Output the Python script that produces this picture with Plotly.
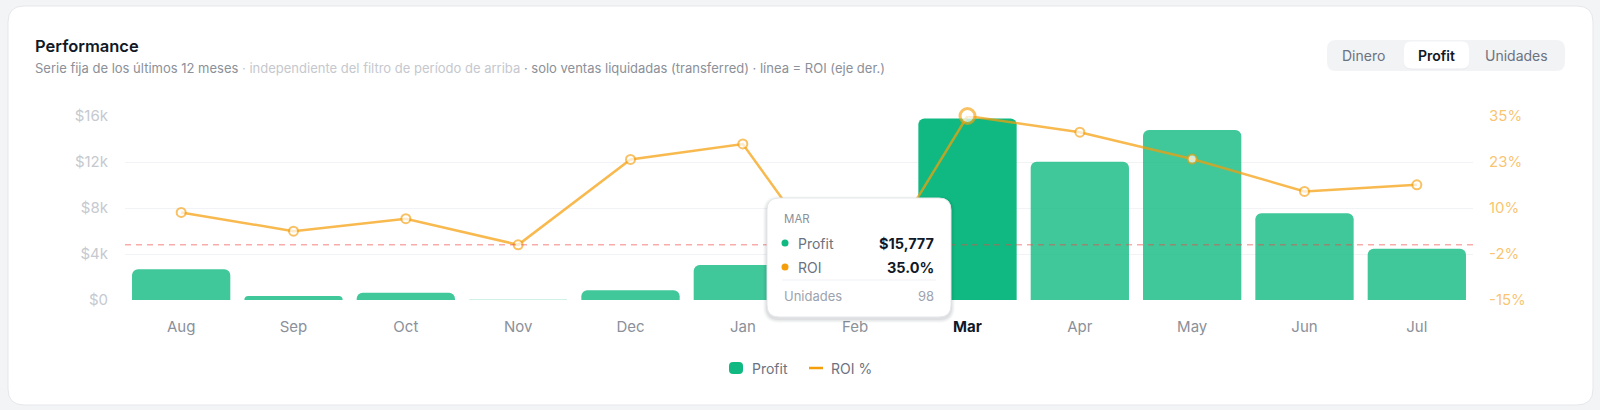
import plotly.graph_objects as go

# ---------------- data ----------------
months = ["Aug", "Sep", "Oct", "Nov", "Dec", "Jan", "Feb", "Mar", "Apr", "May", "Jun", "Jul"]
profit = [2670, 350, 630, 30, 840, 3040, -1150, 15777, 12030, 14780, 7540, 4460]
roi = [8.8, 3.7, 7.1, 0.0, 23.2, 27.4, -15.0, 35.0, 30.6, 23.3, 14.5, 16.3]
units_highlight = 98
highlight_month = "Mar"

left_tickvals = [0, 4000, 8000, 12000, 16000]
left_ticktext = ["$0", "$4k", "$8k", "$12k", "$16k"]
right_tickvals = [-15, -2.5, 10, 22.5, 35]
right_ticktext = ["-15%", "-2%", "10%", "23%", "35%"]

title_text = "Performance"
toggle_labels = ["Dinero", "Profit", "Unidades"]
legend_labels = ["Profit", "ROI %"]

# ---------------- geometry helpers ----------------
W, H = 1600, 410
L, R, T, B = 125, 127, 116, 110
PW, PH = W - L - R, H - T - B
FONT = "Inter"

def X(px):
    return (px - L) / PW

def Y(py):
    return (H - B - py) / PH

def rrect(x0, y0, x1, y1, r):
    return (f"M {X(x0+r)},{Y(y0)} L {X(x1-r)},{Y(y0)} Q {X(x1)},{Y(y0)} {X(x1)},{Y(y0+r)} "
            f"L {X(x1)},{Y(y1-r)} Q {X(x1)},{Y(y1)} {X(x1-r)},{Y(y1)} "
            f"L {X(x0+r)},{Y(y1)} Q {X(x0)},{Y(y1)} {X(x0)},{Y(y1-r)} "
            f"L {X(x0)},{Y(y0+r)} Q {X(x0)},{Y(y0)} {X(x0+r)},{Y(y0)} Z")

hi = months.index(highlight_month)
GREEN = "#10b981"
ORANGE = "#f59e0b"

bar_colors = [GREEN if i == hi else "rgba(16,185,129,0.80)" for i in range(len(months))]
marker_sizes = [15 if i == hi else 9 for i in range(len(months))]
marker_lw = [3 if i == hi else 2 for i in range(len(months))]

fig = go.Figure()
fig.add_trace(go.Bar(
    x=months, y=profit, marker=dict(color=bar_colors, line=dict(width=0)),
    yaxis="y", showlegend=False, hoverinfo="skip",
))
fig.add_trace(go.Scatter(
    x=months, y=roi, yaxis="y2", mode="lines+markers",
    line=dict(color="rgba(245,158,11,0.72)", width=2.5),
    marker=dict(size=marker_sizes, color="white",
                line=dict(color="rgba(245,158,11,0.9)", width=marker_lw)),
    cliponaxis=False, showlegend=False, hoverinfo="skip",
))

shapes = []
ann = []

# card
shapes.append(dict(type="path", xref="paper", yref="paper", path=rrect(8, 6, 1593, 405, 16),
                   fillcolor="white", line=dict(color="#e6e7eb", width=1), layer="below"))

# header
ann.append(dict(xref="paper", yref="paper", x=X(33), y=Y(46), xanchor="left", yanchor="middle",
                text=title_text, showarrow=False,
                font=dict(family=FONT, size=16.5, color="#111827", weight=600)))
sub = ("<span style='color:#8b9099'>Serie fija de los últimos 12 meses</span>"
       "<span style='color:#c5c8ce'> · independiente del filtro de período de arriba</span>"
       "<span style='color:#8b9099'> · solo ventas liquidadas (transferred) · línea = ROI (eje der.)</span>")
ann.append(dict(xref="paper", yref="paper", x=X(33), y=Y(68), xanchor="left", yanchor="middle",
                text=sub, showarrow=False, font=dict(family=FONT, size=13, color="#8b9099")))

# toggle
shapes.append(dict(type="path", xref="paper", yref="paper", path=rrect(1327, 40, 1565, 71, 9),
                   fillcolor="#f2f3f5", line=dict(width=0), layer="below"))
shapes.append(dict(type="path", xref="paper", yref="paper", path=rrect(1404, 42, 1469, 69.5, 7),
                   fillcolor="#e9eaee", line=dict(width=0), layer="below"))
shapes.append(dict(type="path", xref="paper", yref="paper", path=rrect(1404, 41.5, 1469, 68.5, 7),
                   fillcolor="white", line=dict(width=0), layer="below"))
for lab, cx in zip(toggle_labels, [1363, 1436, 1517]):
    sel = lab == "Profit"
    ann.append(dict(xref="paper", yref="paper", x=X(cx), y=Y(55.5), xanchor="center", yanchor="middle",
                    text=lab, showarrow=False,
                    font=dict(family=FONT, size=14, color="#111827" if sel else "#6b7280",
                              weight=600 if sel else 400)))

# break-even line (ROI = 0)
shapes.append(dict(type="line", xref="paper", yref="y2", x0=0, x1=1, y0=0, y1=0,
                   line=dict(color="rgba(239,68,68,0.45)", width=1.5, dash="6px,5px"), layer="above"))

# tooltip
tx0, ty0, tx1, ty1 = 767, 198, 951, 317
for k, a in [(4, 0.025), (3, 0.03), (2, 0.04), (1, 0.05)]:
    shapes.append(dict(type="path", xref="paper", yref="paper",
                       path=rrect(tx0 - k, ty0 - k + 2, tx1 + k, ty1 + k + 2, 12 + k),
                       fillcolor=f"rgba(15,23,42,{a})", line=dict(width=0), layer="above"))
shapes.append(dict(type="path", xref="paper", yref="paper", path=rrect(tx0, ty0, tx1, ty1, 12),
                   fillcolor="white", line=dict(color="#e5e7eb", width=1), layer="above"))
shapes.append(dict(type="line", xref="paper", yref="paper", x0=X(782), x1=X(936), y0=Y(280), y1=Y(280),
                   line=dict(color="#f0f1f4", width=1), layer="above"))
for cy, col in [(243, GREEN), (267, ORANGE)]:
    shapes.append(dict(type="circle", xref="paper", yref="paper",
                       x0=X(781.5), x1=X(788.5), y0=Y(cy - 3.5), y1=Y(cy + 3.5),
                       fillcolor=col, line=dict(width=0), layer="above"))
ann.append(dict(xref="paper", yref="paper", x=X(782), y=Y(219), xanchor="left", yanchor="middle",
                text=months[hi].upper(), showarrow=False,
                font=dict(family=FONT, size=11.5, color="#8b9099")))
rows = [("Profit", f"${profit[hi]:,}", 243), ("ROI", f"{roi[hi]:.1f}%", 267)]
for lab, val, cy in rows:
    ann.append(dict(xref="paper", yref="paper", x=X(796), y=Y(cy), xanchor="left", yanchor="middle",
                    text=lab, showarrow=False, font=dict(family=FONT, size=14, color="#6b7280")))
    ann.append(dict(xref="paper", yref="paper", x=X(936), y=Y(cy), xanchor="right", yanchor="middle",
                    text=val, showarrow=False,
                    font=dict(family=FONT, size=14.5, color="#111827", weight=700)))
ann.append(dict(xref="paper", yref="paper", x=X(782), y=Y(296), xanchor="left", yanchor="middle",
                text="Unidades", showarrow=False, font=dict(family=FONT, size=13, color="#9ca3af")))
ann.append(dict(xref="paper", yref="paper", x=X(936), y=Y(296), xanchor="right", yanchor="middle",
                text=str(units_highlight), showarrow=False, font=dict(family=FONT, size=13, color="#9ca3af")))

# legend
shapes.append(dict(type="path", xref="paper", yref="paper", path=rrect(729, 362, 743, 374, 4),
                   fillcolor=GREEN, line=dict(width=0), layer="above"))
shapes.append(dict(type="line", xref="paper", yref="paper", x0=X(809), x1=X(823), y0=Y(368), y1=Y(368),
                   line=dict(color=ORANGE, width=2.5), layer="above"))
ann.append(dict(xref="paper", yref="paper", x=X(750), y=Y(368), xanchor="left", yanchor="middle",
                text=legend_labels[0], showarrow=False, font=dict(family=FONT, size=14, color="#6b7280")))
ann.append(dict(xref="paper", yref="paper", x=X(829), y=Y(368), xanchor="left", yanchor="middle",
                text=legend_labels[1], showarrow=False, font=dict(family=FONT, size=14, color="#6b7280")))

xticktext = [f"<b><span style='color:#111827'>{m}</span></b>" if i == hi else m for i, m in enumerate(months)]

fig.update_layout(
    width=W, height=H, margin=dict(l=L, r=R, t=T, b=B, autoexpand=False),
    paper_bgcolor="#f3f4f6", plot_bgcolor="rgba(0,0,0,0)",
    bargap=0.125, barcornerradius=6, hovermode=False,
    font=dict(family=FONT),
    xaxis=dict(type="category", categoryorder="array", categoryarray=months,
               range=[-0.5, len(months) - 0.5],
               tickvals=months, ticktext=xticktext, showgrid=False, zeroline=False, showline=False,
               ticks="", ticklabelstandoff=16, tickfont=dict(family=FONT, size=15, color="#8b9099")),
    yaxis=dict(range=[0, 16000], tickvals=left_tickvals, ticktext=left_ticktext,
               showgrid=True, gridcolor="#f2f3f6", gridwidth=1, zeroline=False, showline=False,
               ticks="", ticklabelstandoff=16, tickfont=dict(family=FONT, size=15, color="#c6c9cf")),
    yaxis2=dict(range=[-15, 35], overlaying="y", side="right", tickvals=right_tickvals,
                ticktext=right_ticktext, showgrid=False, zeroline=False, showline=False,
                ticks="", ticklabelstandoff=15,
                tickfont=dict(family=FONT, size=15, color="rgba(245,158,11,0.62)")),
    shapes=shapes, annotations=ann, showlegend=False,
)

fig.write_html(
    "out.html",
    config={"displayModeBar": False},
    post_script="document.body.style.margin='0';document.body.style.overflow='hidden';"
                "document.body.style.background='#f3f4f6';",
)
